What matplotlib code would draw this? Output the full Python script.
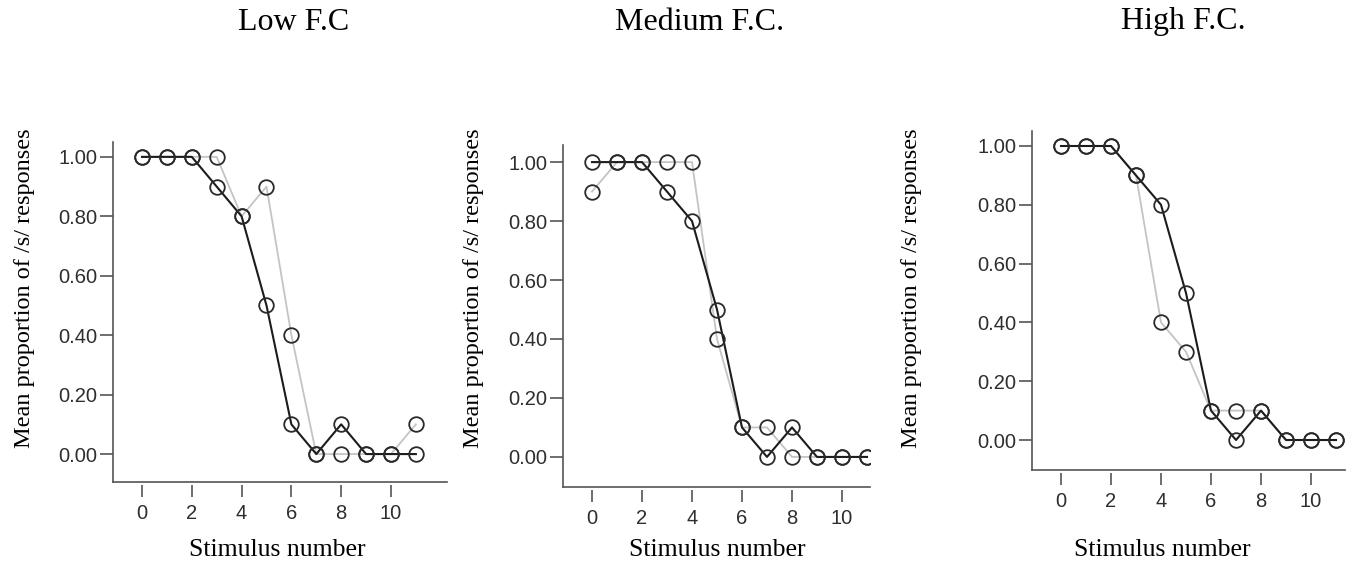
import matplotlib
matplotlib.use("Agg")
import matplotlib.pyplot as plt

# stimulus numbers 0..11
stim = [0, 1, 2, 3, 4, 5, 6, 7, 8, 9, 10, 11]

# mean proportion of /s/ responses, dark line and light line per condition
low_dark = [1.0, 1.0, 1.0, 0.9, 0.8, 0.5, 0.1, 0.0, 0.1, 0.0, 0.0, 0.0]
low_light = [1.0, 1.0, 1.0, 1.0, 0.8, 0.9, 0.4, 0.0, 0.0, 0.0, 0.0, 0.1]
med_dark = [1.0, 1.0, 1.0, 0.9, 0.8, 0.5, 0.1, 0.0, 0.1, 0.0, 0.0, 0.0]
med_light = [0.9, 1.0, 1.0, 1.0, 1.0, 0.4, 0.1, 0.1, 0.0, 0.0, 0.0, 0.0]
high_dark = [1.0, 1.0, 1.0, 0.9, 0.8, 0.5, 0.1, 0.0, 0.1, 0.0, 0.0, 0.0]
high_light = [1.0, 1.0, 1.0, 0.9, 0.4, 0.3, 0.1, 0.1, 0.1, 0.0, 0.0, 0.0]

titles = ["Low F.C", "Medium F.C.", "High F.C."]
yticks = [0.0, 0.2, 0.4, 0.6, 0.8, 1.0]
xticks = [0, 2, 4, 6, 8, 10]

W, H = 1355, 568
fig = plt.figure(figsize=(W / 100, H / 100), dpi=100)

# axes boxes in pixels: left, right, top, bottom
boxes = [(113, 447, 142, 482), (563, 870, 145, 487), (1032, 1345, 131, 470)]
xlims = [(-1.165, 12.25), (-1.16, 11.12), (-1.16, 11.36)]
ylims = [(-0.094, 1.05), (-0.102, 1.058), (-0.102, 1.051)]
ylab_x = [25, 474, 912]
xlab_x = [277, 717, 1162]
title_x = [294, 700, 1183]

data = [(low_dark, low_light), (med_dark, med_light), (high_dark, high_light)]

serif = "Liberation Serif"
tickfont = {"family": "Liberation Sans", "size": 14.5}

for i in range(3):
    l, r, t, b = boxes[i]
    ax = fig.add_axes([l / W, 1 - b / H, (r - l) / W, (b - t) / H])
    dark, light = data[i]
    ax.plot(stim, light, color="#c4c4c4", lw=1.3, zorder=2, clip_on=True)
    ax.plot(stim, dark, color="#1c1c1c", lw=1.5, zorder=3, clip_on=True)
    ax.plot(stim, light, ls="none", marker="o", ms=10.5, mfc="none",
            mec="#2a2a2a", mew=1.3, zorder=4)
    ax.plot(stim, dark, ls="none", marker="o", ms=10.5, mfc="none",
            mec="#2a2a2a", mew=1.3, zorder=4)
    ax.set_xlim(*xlims[i])
    ax.set_ylim(*ylims[i])
    for s in ["top", "right"]:
        ax.spines[s].set_visible(False)
    ax.spines["left"].set_color("#555555")
    ax.spines["left"].set_linewidth(1.2)
    # bottom spine hidden and pushed out so the ticks sit below a gap
    ax.spines["bottom"].set_visible(False)
    ax.spines["bottom"].set_position(("outward", 2.3))
    ax.plot([0, 1], [0, 0], transform=ax.transAxes, color="#555555",
            lw=1.2, clip_on=False)
    ax.set_xticks(xticks)
    ax.set_yticks(yticks)
    ax.set_yticklabels(["%.2f" % v for v in yticks], fontdict=tickfont,
                       color="#2e2e2e")
    ax.set_xticklabels([str(v) for v in xticks], fontdict=tickfont,
                       color="#2e2e2e")
    ax.tick_params(axis="y", direction="out", length=9.4, width=1.2,
                   color="#555555", pad=2)
    ax.tick_params(axis="x", direction="out", length=8.6, width=1.2,
                   color="#555555", pad=5)
    ax.patch.set_visible(False)

    fig.text(ylab_x[i] / W, 1 - 288 / H, "Mean proportion of /s/ responses",
             rotation=90, ha="center", va="center", family=serif, size=17.5)
    fig.text(xlab_x[i] / W, 1 - 550 / H, "Stimulus number",
             ha="center", va="center", family=serif, size=18.5)
    fig.text(title_x[i] / W, 1 - 22 / H, titles[i],
             ha="center", va="center", family=serif, size=23)

fig.savefig("out.png", dpi=100)
